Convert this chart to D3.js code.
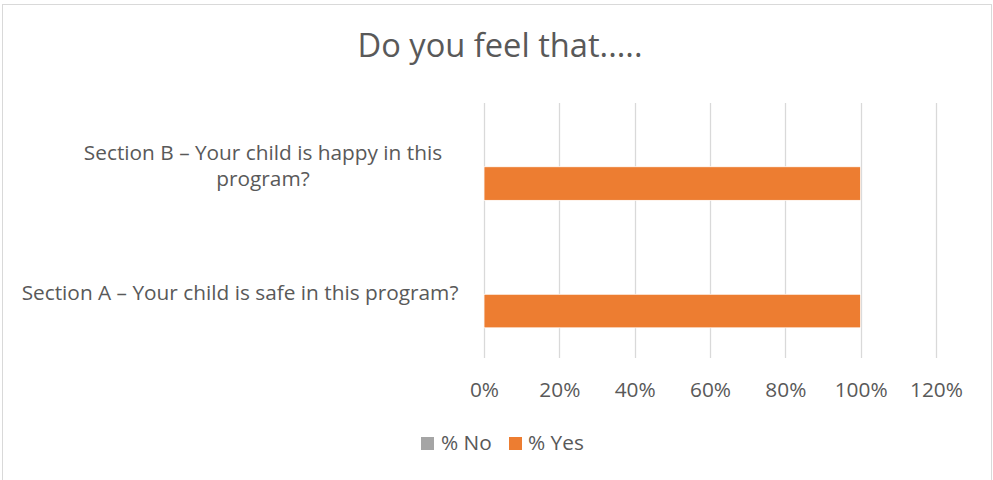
<!DOCTYPE html>
<html>
<head>
<meta charset="utf-8">
<script src="https://cdn.jsdelivr.net/npm/d3@7"></script>
<style>
  html, body { margin: 0; padding: 0; background: #fff; }
  svg { display: block; }
  text { font-family: "Open Sans", Lato, sans-serif; fill: #595959; }
</style>
</head>
<body>
<svg id="chart" width="993" height="480"></svg>
<script>
// ---- data ----
const title = "Do you feel that.....";
const categories = [
  "Section A \u2013 Your child is safe in this program?",
  "Section B \u2013 Your child is happy in this program?"
];
const categoryLines = [
  ["Section A \u2013 Your child is safe in this program?"],
  ["Section B \u2013 Your child is happy in this", "program?"]
];
const seriesNames = ["% No", "% Yes"];
const noValues = [0, 0];
const yesValues = [1, 1];
const xTicks = [0, 0.2, 0.4, 0.6, 0.8, 1.0, 1.2];
const colors = { "% No": "#a5a5a5", "% Yes": "#ed7d31" };

// ---- layout ----
const plot = { left: 484, right: 936, top: 103, bottom: 358 };
const svg = d3.select("#chart");

function fitSize(sel, target, base) {
  sel.style("font-size", base + "px");
  const w = sel.node().getComputedTextLength();
  const s = base * target / w;
  sel.style("font-size", s.toFixed(2) + "px");
  return s;
}

// outer border (bottom edge falls outside the picture)
svg.append("rect")
  .attr("x", 2.5).attr("y", 4.5).attr("width", 989).attr("height", 480)
  .attr("fill", "#fff").attr("stroke", "#d9d9d9").attr("stroke-width", 1);

// title
const tt = svg.append("text")
  .attr("x", 500).attr("y", 57)
  .attr("text-anchor", "middle")
  .text(title);
fitSize(tt, 285, 28);

const x = d3.scaleLinear().domain([0, 1.2]).range([plot.left, plot.right]);
const y = d3.scaleBand().domain(categories)
  .range([plot.bottom, plot.top])
  .paddingInner(0.473).paddingOuter(0.2365);
const ySeries = d3.scaleBand().domain(["% No", "% Yes"]).range([0, y.bandwidth()]);

// gridlines
svg.append("g").selectAll("line").data(xTicks).join("line")
  .attr("x1", d => Math.round(x(d)) + 0.5).attr("x2", d => Math.round(x(d)) + 0.5)
  .attr("y1", plot.top).attr("y2", plot.bottom)
  .attr("stroke", "#d9d9d9").attr("stroke-width", 1.3);

// bars
const barData = [];
categories.forEach((c, i) => {
  barData.push({ cat: c, series: "% No", value: noValues[i] });
  barData.push({ cat: c, series: "% Yes", value: yesValues[i] });
});
svg.append("g").selectAll("rect").data(barData.filter(d => d.value > 0)).join("rect")
  .attr("x", x(0))
  .attr("y", d => y(d.cat) + ySeries(d.series))
  .attr("width", d => x(d.value) - x(0))
  .attr("height", ySeries.bandwidth())
  .attr("fill", d => colors[d.series])
  .attr("stroke", "#fff").attr("stroke-width", 0.8);

// category label size fitted on label A width
const probe = svg.append("text").text(categoryLines[0][0]);
const labelSize = fitSize(probe, 437, 18);
probe.remove();

// x axis labels
const xAxis = d3.axisBottom(x).tickValues(xTicks).tickFormat(d3.format(".0%")).tickSize(0).tickPadding(0);
const gx = svg.append("g").attr("transform", `translate(0, ${plot.bottom})`).call(xAxis);
gx.select(".domain").remove();
gx.selectAll("text")
  .attr("y", 39).attr("dy", null)
  .style("font-size", labelSize + "px")
  .style("font-family", null)
  .attr("fill", "#595959");

const labelCenters = [240, 263];
const lineH = 26;
categories.forEach((c, i) => {
  const lines = categoryLines[i];
  const cy = y(c) + y.bandwidth() / 2;
  const t = svg.append("text")
    .attr("text-anchor", "middle")
    .style("font-size", labelSize + "px");
  lines.forEach((ln, j) => {
    t.append("tspan")
      .attr("x", labelCenters[i])
      .attr("y", cy + 6 + (j - (lines.length - 1) / 2) * lineH)
      .text(ln);
  });
});

// legend
const legendItems = [
  { name: "% No", sx: 421, tx: 441 },
  { name: "% Yes", sx: 509, tx: 528 }
];
const lg = svg.append("g");
legendItems.forEach(it => {
  lg.append("rect").attr("x", it.sx).attr("y", 437).attr("width", 13).attr("height", 13)
    .attr("fill", colors[it.name]);
  lg.append("text").attr("x", it.tx).attr("y", 450)
    .style("font-size", labelSize + "px").text(it.name);
});
</script>
</body>
</html>
